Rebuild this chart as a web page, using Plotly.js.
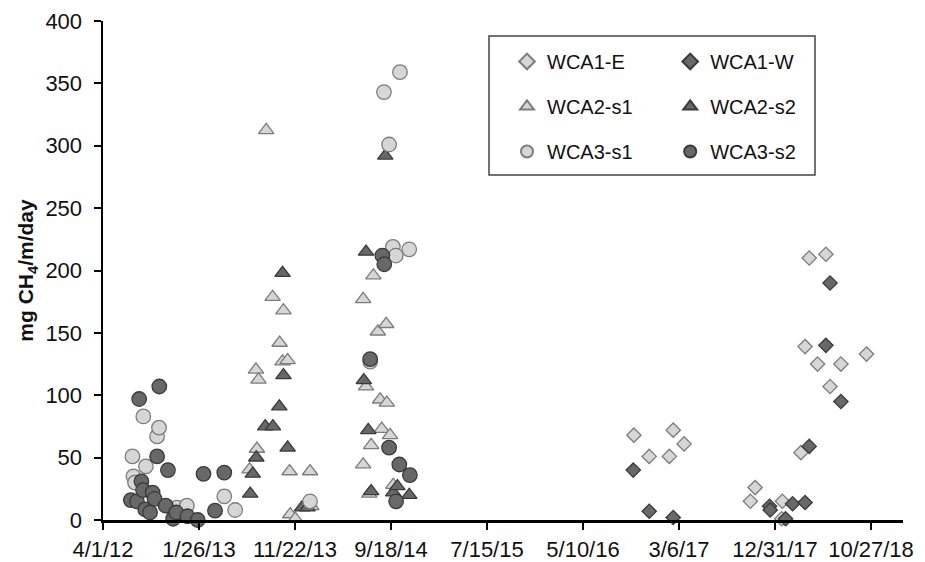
<!DOCTYPE html>
<html><head><meta charset="utf-8">
<script src="https://cdn.plot.ly/plotly-3.0.1.min.js"></script>
<style>html,body{margin:0;padding:0;background:#fff}#chart{width:925px;height:562px}</style>
</head><body><div id="chart"></div>
<script>
// ---- data ----
const seriesNames = ['WCA1-E','WCA1-W','WCA2-s1','WCA2-s2','WCA3-s1','WCA3-s2'];

const wca1eDates = ['2016-10-16','2016-12-03','2017-02-04','2017-02-16','2017-03-22','2017-10-15','2017-10-30','2018-01-21','2018-01-23','2018-03-22','2018-04-04','2018-04-17','2018-05-13','2018-06-08','2018-06-21','2018-07-25','2018-10-13'];
const wca1eValues = [68,51,51,72,61,15,26,1,15,54,139,210,125,213,107,125,133];

const wca1wDates = ['2016-10-14','2016-12-03','2017-02-16','2017-12-14','2017-12-16','2018-02-02','2018-02-24','2018-04-04','2018-04-17','2018-06-08','2018-06-21','2018-07-25'];
const wca1wValues = [40,7,2,11,8,1,13,14,59,140,190,95];

const wca2s1Dates = ['2013-07-03','2013-07-23','2013-07-26','2013-07-31','2013-08-24','2013-09-13','2013-10-05','2013-10-14','2013-10-17','2013-10-30','2013-11-05','2013-11-07','2013-11-23','2014-01-08','2014-01-12',
  '2014-06-23','2014-06-23','2014-07-02','2014-07-12','2014-07-18','2014-07-25','2014-08-08','2014-08-15','2014-08-20','2014-09-03','2014-09-05','2014-09-15','2014-09-25'];
const wca2s1Values = [40.5,120.5,57,112.5,312.5,178.7,142,127,168,128,39,4.5,1,39,11,
  177,44.5,107,21,60,196,151,96.5,73,157,94,68,28];

const wca2s2Dates = ['2013-07-05','2013-07-13','2013-07-24','2013-08-21','2013-09-14','2013-10-04','2013-10-14','2013-10-17','2013-10-30','2013-12-14','2013-12-31',
  '2014-06-25','2014-07-02','2014-07-09','2014-07-18','2014-08-31','2014-09-25','2014-10-08','2014-11-14'];
const wca2s2Values = [21,37,50,75,75,91,198,116,58,10,10,
  112,215,72,23,292,22,27,20];

const wca3s1Dates = ['2012-07-02','2012-07-05','2012-07-10','2012-08-05','2012-08-13','2012-09-17','2012-09-23','2012-11-10','2012-11-18','2012-12-19','2013-04-15','2013-05-19','2014-01-08',
  '2014-07-15','2014-08-27','2014-09-12','2014-09-24','2014-10-03','2014-10-16','2014-11-14'];
const wca3s1Values = [51,35,30,83,43,67,74,5,10,11.5,19,8,15,
  127,343,301,219,212,359,217];

const wca3s2Dates = ['2012-06-27','2012-07-16','2012-07-23','2012-07-30','2012-08-04','2012-08-11','2012-08-26','2012-09-03','2012-09-09','2012-09-17','2012-09-24','2012-10-14','2012-10-21','2012-11-06','2012-11-16','2012-12-21','2013-01-22','2013-02-09','2013-03-17','2013-04-15',
  '2014-07-15','2014-08-22','2014-08-28','2014-09-12','2014-10-04','2014-10-14','2014-11-16'];
const wca3s2Values = [16,15,97,31,24,8.5,6,22,17,51,107,11.5,40,1,6,3,0,37,7.5,38,
  129,212,205,58,15,44.5,36];

const xTickDates = ['2012-04-01','2013-01-26','2013-11-22','2014-09-18','2015-07-15','2016-05-10','2017-03-06','2017-12-31','2018-10-27'];
const xTickLabels = ['4/1/12','1/26/13','11/22/13','9/18/14','7/15/15','5/10/16','3/6/17','12/31/17','10/27/18'];
const yTickValues = [0,50,100,150,200,250,300,350,400];

// ---- styles ----
const LIGHT = '#d6d6d6', LIGHT_LINE = '#7c7c7c';
const DARK = '#686868', DARK_LINE = '#3a3a3a';
const FONT = 'Arial, "Liberation Sans", sans-serif';

function tr(name, x, y, symbol, fill, line, size, legend) {
  return {
    type: 'scatter', mode: 'markers', name: name, x: x, y: y,
    cliponaxis: false, legend: legend, legendgroup: name,
    marker: {symbol: symbol, size: size, color: fill, line: {color: line, width: 1.3}}
  };
}

const data = [
  tr(seriesNames[0], wca1eDates, wca1eValues, 'diamond', LIGHT, LIGHT_LINE, 11, 'legend'),
  tr(seriesNames[1], wca1wDates, wca1wValues, 'diamond', DARK, DARK_LINE, 11, 'legend2'),
  tr(seriesNames[2], wca2s1Dates, wca2s1Values, 'triangle-up', LIGHT, LIGHT_LINE, 13.5, 'legend'),
  tr(seriesNames[3], wca2s2Dates, wca2s2Values, 'triangle-up', DARK, DARK_LINE, 13.5, 'legend2'),
  tr(seriesNames[4], wca3s1Dates, wca3s1Values, 'circle', LIGHT, LIGHT_LINE, 14.5, 'legend'),
  tr(seriesNames[5], wca3s2Dates, wca3s2Values, 'circle', DARK, DARK_LINE, 14.5, 'legend2')
];

const legendCommon = {
  bgcolor: 'rgba(0,0,0,0)', borderwidth: 0, font: {family: FONT, size: 20, color: '#111'},
  tracegroupgap: 16, xanchor: 'left', yanchor: 'top', itemsizing: 'constant'
};

const layout = {
  width: 925, height: 562,
  margin: {l: 103, r: 22, t: 21, b: 42},
  paper_bgcolor: '#fff', plot_bgcolor: '#fff',
  font: {family: FONT, color: '#111'},
  showlegend: true,
  legend: Object.assign({}, legendCommon, {x: 0.505, y: 0.958}),
  legend2: Object.assign({}, legendCommon, {x: 0.709, y: 0.958}),
  xaxis: {
    type: 'date', range: ['2012-04-01', '2019-02-04'],
    tickmode: 'array', tickvals: xTickDates, ticktext: xTickLabels,
    ticks: 'outside', ticklen: 7, tickwidth: 2, tickcolor: '#000',
    showline: true, linecolor: '#000', linewidth: 2.5,
    showgrid: false, zeroline: false,
    tickfont: {family: FONT, size: 22, color: '#111'},
    ticklabelstandoff: 1
  },
  yaxis: {
    range: [0, 400], tickmode: 'array', tickvals: yTickValues,
    ticks: 'outside', ticklen: 7, tickwidth: 2, tickcolor: '#000',
    showline: true, linecolor: '#000', linewidth: 2.5,
    showgrid: false, zeroline: false,
    tickfont: {family: FONT, size: 22, color: '#111'},
    ticklabelstandoff: 7,
    title: {text: '<b>mg CH<sub>4</sub>/m/day</b>', font: {family: FONT, size: 21, color: '#111'}, standoff: 6}
  },
  shapes: [{
    type: 'rect', xref: 'paper', yref: 'paper',
    x0: 0.4825, x1: 0.89, y0: 0.6914, y1: 0.97,
    line: {color: '#444', width: 1.5}, fillcolor: 'rgba(0,0,0,0)'
  }]
};

Plotly.newPlot('chart', data, layout, {displayModeBar: false, staticPlot: true});
</script>
</body></html>
